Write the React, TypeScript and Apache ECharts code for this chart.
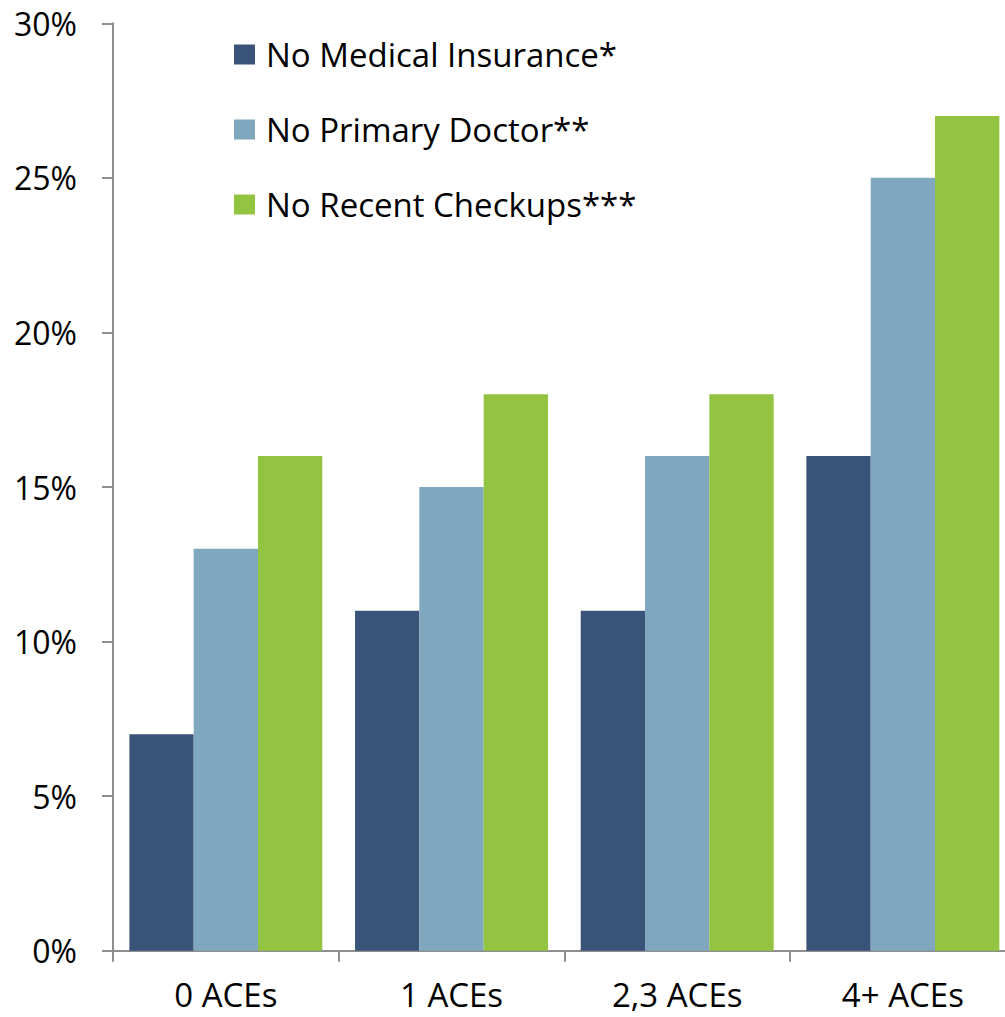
import React, { useEffect, useRef } from "react";
import * as echarts from "echarts";

const categories = ["0 ACEs", "1 ACEs", "2,3 ACEs", "4+ ACEs"];
const seriesNames = ["No Medical Insurance*", "No Primary Doctor**", "No Recent Checkups***"];
const noInsurance = [7, 11, 11, 16];
const noDoctor = [13, 15, 16, 25];
const noCheckups = [16, 18, 18, 27];
const yTicks = [0, 5, 10, 15, 20, 25, 30];
const colors = ["#3A5479", "#7FA8BF", "#92C441"];

const FONT = "'Open Sans', sans-serif";

export default function App() {
  const ref = useRef<HTMLDivElement>(null);
  useEffect(() => {
    if (!ref.current) return;
    const chart = echarts.init(ref.current, undefined, { renderer: "svg" });
    const axisColor = "#8E8E8E";
    chart.setOption({
      animation: false,
      backgroundColor: "#ffffff",
      textStyle: { fontFamily: FONT },
      grid: { left: 113, right: 14.3, top: 23.3, bottom: 66.3, containLabel: false },
      legend: {
        orient: "vertical",
        left: 234,
        top: 38,
        padding: 0,
        itemWidth: 21,
        itemHeight: 20,
        itemGap: 42,
        icon: "rect",
        textStyle: { fontSize: 33, color: "#000", fontFamily: FONT, padding: [0, 0, 0, 6] },
        data: seriesNames,
      },
      xAxis: {
        type: "category",
        data: categories,
        axisLine: { lineStyle: { color: axisColor, width: 2 } },
        axisTick: { show: true, length: 11, lineStyle: { color: axisColor, width: 2 } },
        axisLabel: { fontSize: 33, lineHeight: 33, color: "#000", margin: 27, fontFamily: FONT },
        splitLine: { show: false },
      },
      yAxis: {
        type: "value",
        min: yTicks[0],
        max: yTicks[yTicks.length - 1],
        interval: yTicks[1] - yTicks[0],
        axisLine: { show: true, lineStyle: { color: axisColor, width: 2 } },
        axisTick: { show: true, length: 11, lineStyle: { color: axisColor, width: 2 } },
        axisLabel: { fontSize: 32, color: "#000", margin: 36, formatter: "{value}%", fontFamily: FONT },
        splitLine: { show: false },
      },
      series: [noInsurance, noDoctor, noCheckups].map((d, i) => ({
        name: seriesNames[i],
        type: "bar",
        data: d,
        barGap: "0%",
        barCategoryGap: "14.5%",
        itemStyle: { color: colors[i] },
      })),
    });
    return () => chart.dispose();
  }, []);
  return (
    <div style={{ position: "fixed", left: 0, top: 0, width: 1005, height: 1017, overflow: "hidden", background: "#fff" }}>
      <div ref={ref} style={{ width: 1030, height: 1017 }} />
    </div>
  );
}
